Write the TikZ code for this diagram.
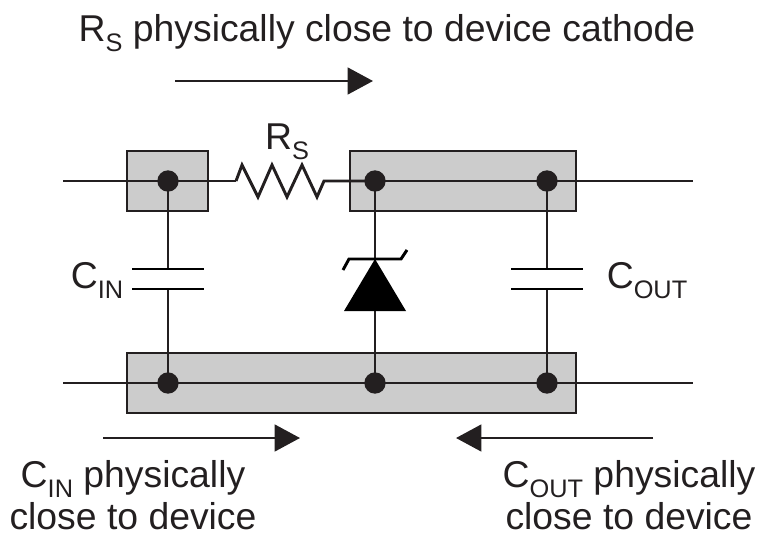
\documentclass[tikz,border=0pt]{standalone}
\usepackage{fontspec}
\setmainfont{Liberation Sans}
\usetikzlibrary{arrows.meta}
\definecolor{pad}{gray}{0.8}
\definecolor{ink}{RGB}{35,31,32}
\newcommand{\lbl}{\fontsize{28pt}{33pt}\selectfont}
\newcommand{\sbs}[1]{\raisebox{-7.5pt}{\fontsize{19pt}{21pt}\selectfont #1}}
\tikzset{
  padbox/.style={fill=pad,draw=ink,line width=2.1pt,outer sep=0pt,inner sep=0pt,minimum height=45pt,anchor=north west},
  wire/.style={draw=ink,line width=2.2pt},
  joint/.style={circle,fill=ink,inner sep=0pt,minimum size=16pt},
  plate/.style={draw=black,line width=2.2pt},
  flow/.style={draw=ink,line width=1.9pt,-{Triangle[length=19pt,width=20pt]}},
  txt/.style={font=\lbl,text=ink,inner sep=0pt,align=center,anchor=base}
}
\begin{document}
\begin{tikzpicture}[x=0.75pt,y=-0.75pt]
\useasboundingbox (0,0) rectangle (759,535);
% pads
\node[padbox,minimum width=60.75pt] (p1) at (127,151) {};
\node[padbox,minimum width=169.5pt] (p2) at (350,151) {};
\node[padbox,minimum width=336.75pt] (p3) at (127,353) {};
% free wire ends
\coordinate (tl) at (63,181);
\coordinate (tr) at (693,181);
\coordinate (bl) at (63,383);
\coordinate (br) at (693,383);
% joints
\coordinate (j1) at (168,181);
\coordinate (j2) at (375,181);
\coordinate (j3) at (547,181);
\coordinate (j4) at (168,383);
\coordinate (j5) at (375,383);
\coordinate (j6) at (547,383);
% wires
\draw[wire] (tl) -- (j1) -- (236,181);
\draw[wire,line join=miter] (236,181) -- (242,165) -- (258,197) -- (272,165) -- (287,197) -- (302,165) -- (317,197) -- (324,181) -- (j2);
\draw[wire] (j2) -- (tr);
\draw[wire] (bl) -- (br);
% capacitor left
\draw[wire] (j1) -- (168,269);
\draw[wire] (168,289) -- (j4);
\draw[plate] (132,269) -- (204,269);
\draw[plate] (132,289) -- (204,289);
% capacitor right
\draw[wire] (j3) -- (547,269);
\draw[wire] (547,289) -- (j6);
\draw[plate] (511,269) -- (583,269);
\draw[plate] (511,289) -- (583,289);
% zener
\draw[wire] (j2) -- (375,261);
\draw[wire] (375,311) -- (j5);
\fill[black] (375,259) -- (406,311) -- (344,311) -- cycle;
\draw[plate] (343,270) -- (349,259) -- (401,259) -- (407,250);
% dots
\foreach \n in {j1,j2,j3,j4,j5,j6} \node[joint] at (\n) {};
% arrows
\coordinate (a1) at (175,81);
\coordinate (a2) at (373,81);
\coordinate (a3) at (103,438);
\coordinate (a4) at (300,438);
\coordinate (a5) at (653,438);
\coordinate (a6) at (456,438);
\draw[flow] (a1) -- (a2);
\draw[flow] (a3) -- (a4);
\draw[flow] (a5) -- (a6);
% labels
\node[txt] (t1) at (387,42) {R\sbs{S} physically close to device cathode};
\node[txt] (t2) at (287,149) {R\sbs{S}};
\node[txt] (t3) at (97,288) {C\sbs{IN}};
\node[txt] (t4) at (647,288) {C\sbs{OUT}};
\node[txt] (t5) at (133,487) {C\sbs{IN} physically};
\node[txt] (t6) at (133,529) {close to device};
\node[txt] (t7) at (629,487) {C\sbs{OUT} physically};
\node[txt] (t8) at (629,529) {close to device};
\end{tikzpicture}
\end{document}
